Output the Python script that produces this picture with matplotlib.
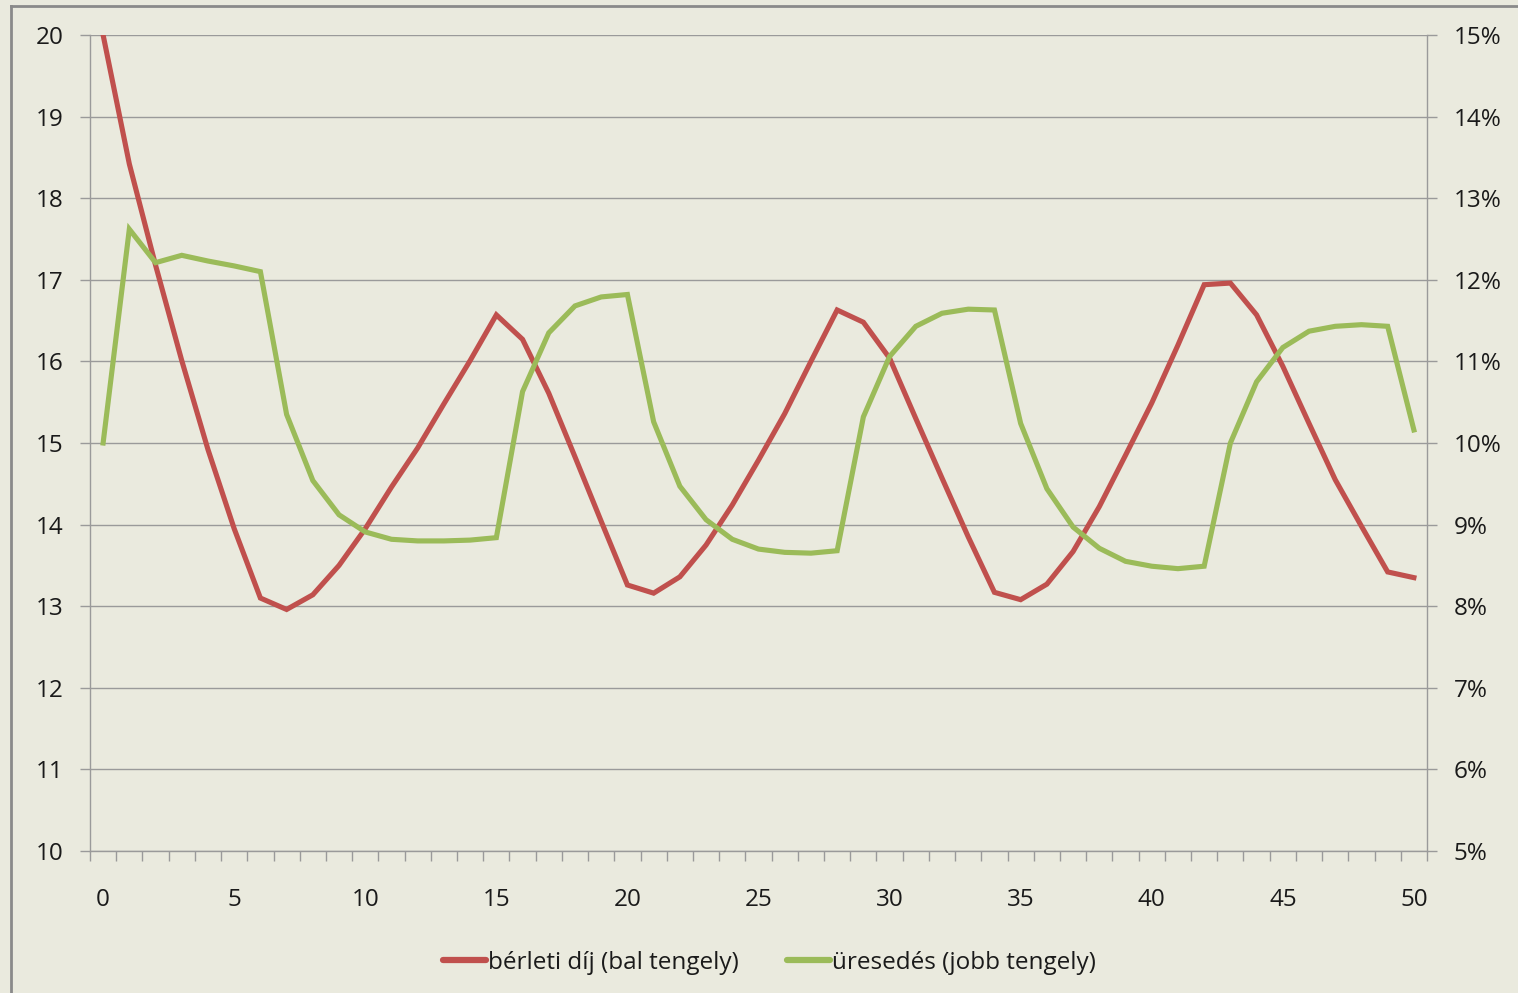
import numpy as np
import matplotlib
matplotlib.use("Agg")
import matplotlib.pyplot as plt
from matplotlib.ticker import FuncFormatter, FixedLocator
from matplotlib.lines import Line2D

# periods 0..50
periods = np.arange(0, 51)

# rent (left axis)
rent = [20.00, 18.42, 17.18, 16.01, 14.92, 13.95, 13.10, 12.96, 13.14, 13.50,
        13.95, 14.46, 14.94, 15.48, 16.01, 16.57, 16.27, 15.61, 14.83, 14.04,
        13.26, 13.16, 13.36, 13.75, 14.24, 14.79, 15.36, 16.00, 16.63, 16.48,
        16.04, 15.30, 14.57, 13.85, 13.17, 13.08, 13.27, 13.67, 14.22, 14.85,
        15.49, 16.20, 16.94, 16.96, 16.57, 15.94, 15.24, 14.55, 13.98, 13.42,
        13.35]

# vacancy in % (right axis)
vacancy = [10.00, 12.62, 12.21, 12.30, 12.23, 12.17, 12.10, 10.35, 9.54, 9.12,
           8.91, 8.82, 8.80, 8.80, 8.81, 8.84, 10.63, 11.35, 11.68, 11.79,
           11.82, 10.26, 9.47, 9.06, 8.82, 8.70, 8.66, 8.65, 8.68, 10.32,
           11.06, 11.43, 11.59, 11.64, 11.63, 10.24, 9.44, 8.97, 8.71, 8.55,
           8.49, 8.46, 8.49, 10.00, 10.75, 11.17, 11.37, 11.43, 11.45, 11.43,
           10.16]

x_labels = list(range(0, 51, 5))
left_ticks = list(range(10, 21))
right_ticks = list(range(5, 16))

bg = "#EAEADE"
grid_c = "#9A9A9A"
red = "#C0504D"
green = "#9BBB59"
txt = "#1A1A1A"

plt.rcParams['font.family'] = ['Open Sans', 'DejaVu Sans']
fs = 17.5

fig = plt.figure(figsize=(15.18, 9.93), dpi=100, facecolor=bg)
ax = fig.add_axes([90/1518, 1-851/993, (1427-90)/1518, (851-35)/993])
ax.set_facecolor(bg)
ax2 = ax.twinx()

l1, = ax.plot(periods, rent, color=red, lw=3.7, solid_joinstyle='miter', zorder=3,
              label="bérleti díj (bal tengely)")
l2, = ax2.plot(periods, vacancy, color=green, lw=3.7, solid_joinstyle='miter', zorder=3,
               label="üresedés (jobb tengely)")

ax.set_xlim(-0.5, 50.5)
ax.set_ylim(10, 20)
ax2.set_ylim(5, 15)

ax.set_xticks(x_labels)
ax.set_xticklabels([str(v) for v in x_labels])
ax.xaxis.set_minor_locator(FixedLocator(np.arange(-0.5, 51, 1)))
ax.tick_params(axis='x', which='major', length=0, pad=27, labelsize=fs, labelcolor=txt)
ax.tick_params(axis='x', which='minor', length=7, width=1, color=grid_c, direction='out')

ax.set_yticks(left_ticks)
ax.tick_params(axis='y', length=7, width=1, color=grid_c, pad=12, labelsize=fs, labelcolor=txt)
ax2.set_yticks(right_ticks)
ax2.yaxis.set_major_formatter(FuncFormatter(lambda v, p: f"{v:.0f}%"))
ax2.tick_params(axis='y', length=7, width=1, color=grid_c, pad=12, labelsize=fs, labelcolor=txt)

ax.grid(axis='y', color=grid_c, lw=1)
ax.set_axisbelow(True)

for a in (ax, ax2):
    a.spines['top'].set_visible(False)
    for s in ('left', 'right', 'bottom'):
        a.spines[s].set_color(grid_c)
        a.spines[s].set_linewidth(1)
ax.spines['right'].set_visible(False)
ax2.spines['left'].set_visible(False)
ax2.spines['bottom'].set_visible(False)

leg = fig.legend(handles=[l1, l2], loc='center', bbox_to_anchor=(0.507, 1-963/993),
                 ncol=2, frameon=False, fontsize=fs, handlelength=1.75, handletextpad=0.1,
                 columnspacing=2.0, labelcolor=txt)
for h in leg.legend_handles:
    h.set_linewidth(4.5)
    h.set_solid_capstyle('round')

# outer chart border (top and left edges visible)
fig.add_artist(Line2D([10.5/1518, 10.5/1518], [0, 1-6/993], transform=fig.transFigure,
                      color="#8A8A8A", lw=2))
fig.add_artist(Line2D([10.5/1518, 1], [1-6/993, 1-6/993], transform=fig.transFigure,
                      color="#8A8A8A", lw=2))

fig.savefig("out.png", dpi=100, facecolor=bg)
